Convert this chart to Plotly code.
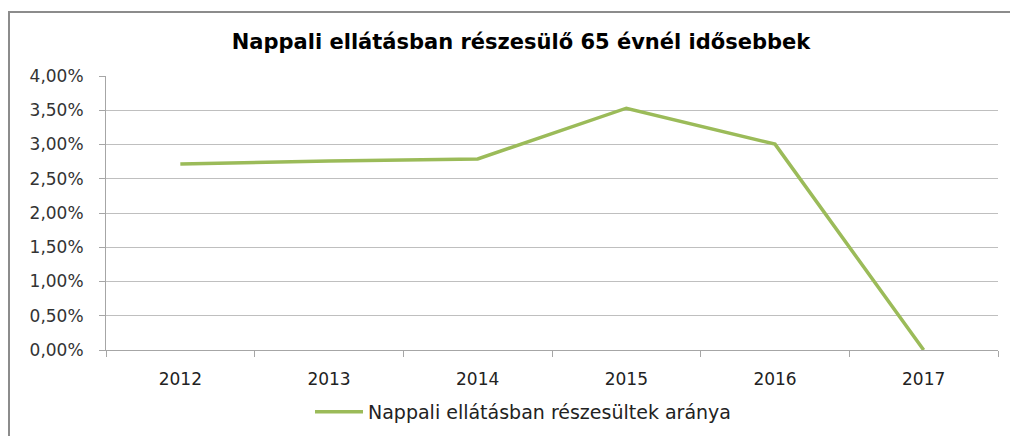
import plotly.graph_objects as go

# Share of people over 65 receiving day care, by year
years = ["2012", "2013", "2014", "2015", "2016", "2017"]
share = [0.02715, 0.02760, 0.02790, 0.03530, 0.03005, 0.0]

series_name = "Nappali ellátásban részesültek aránya"
title_text = "Nappali ellátásban részesülő 65 évnél idősebbek"

W, H = 1010, 436
ML, MR, MT, MB = 106, 12, 76, 86
plot_w = W - ML - MR
plot_h = H - MT - MB


def px_to_paper_x(px):
    return (px - ML) / plot_w


def px_to_paper_y(py):
    return (H - MB - py) / plot_h


fig = go.Figure()
fig.add_trace(go.Scatter(
    x=years,
    y=share,
    mode="lines",
    name=series_name,
    line=dict(color="#9BBB59", width=3.5),
    hoverinfo="x+y",
))

grid_col = "#BFBFBF"
axis_col = "#A6A6A6"

fig.update_layout(
    width=W,
    height=H,
    margin=dict(l=ML, r=MR, t=MT, b=MB, autoexpand=False),
    paper_bgcolor="white",
    plot_bgcolor="white",
    separators=", ",
    title=dict(
        text=f"<b>{title_text}</b>",
        x=521 / W, xref="container", xanchor="center",
        y=1 - 42 / H, yref="container", yanchor="middle",
        font=dict(family="DejaVu Sans", size=21, color="#000000"),
    ),
    xaxis=dict(
        type="category",
        range=[-0.5, 5.5],
        tickson="boundaries",
        ticks="outside",
        ticklen=6,
        tickcolor=axis_col,
        showline=True,
        linecolor=axis_col,
        linewidth=1,
        showgrid=False,
        ticklabelstandoff=14,
        automargin=False,
        tickfont=dict(family="DejaVu Sans", size=17, color="#222222"),
        fixedrange=True,
    ),
    yaxis=dict(
        range=[0, 0.04],
        dtick=0.005,
        tickformat=".2%",
        ticks="outside",
        ticklen=6,
        tickcolor=axis_col,
        showline=True,
        linecolor=axis_col,
        linewidth=1,
        showgrid=True,
        gridcolor=grid_col,
        gridwidth=1,
        zeroline=False,
        ticklabelstandoff=12,
        automargin=False,
        tickfont=dict(family="DejaVu Sans", size=17, color="#333333"),
        fixedrange=True,
    ),
    showlegend=True,
    legend=dict(
        orientation="h",
        x=px_to_paper_x(523), xanchor="center",
        y=px_to_paper_y(412), yanchor="middle",
        itemwidth=48,
        font=dict(family="DejaVu Sans", size=19, color="#222222"),
        bgcolor="rgba(0,0,0,0)",
    ),
    shapes=[
        # outer chart frame
        dict(
            type="rect", xref="paper", yref="paper",
            x0=px_to_paper_x(9), x1=px_to_paper_x(1030),
            y0=px_to_paper_y(460), y1=px_to_paper_y(12),
            line=dict(color="#8C8C8C", width=2),
            fillcolor="rgba(0,0,0,0)",
            layer="below",
        ),
    ],
)

fig.write_html("out.html")
